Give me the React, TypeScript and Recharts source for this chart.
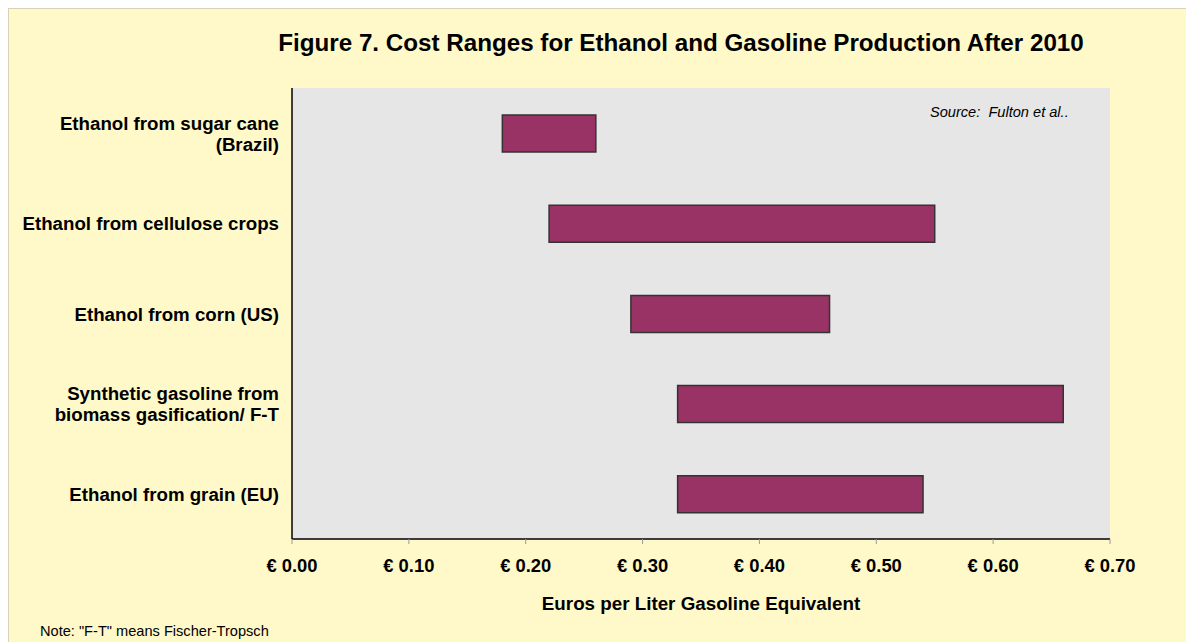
import React from "react";
import { BarChart, Bar, XAxis, YAxis, CartesianGrid } from "recharts";

const categories = [
  "Ethanol from sugar cane\n(Brazil)",
  "Ethanol from cellulose crops",
  "Ethanol from corn (US)",
  "Synthetic gasoline from\nbiomass gasification/ F-T",
  "Ethanol from grain (EU)",
];
const lowCost = [0.18, 0.22, 0.29, 0.33, 0.33];
const highCost = [0.26, 0.55, 0.46, 0.66, 0.54];
const xTicks = [0, 0.1, 0.2, 0.3, 0.4, 0.5, 0.6, 0.7];
const bandEdges = [0, 1, 2, 3, 4, 5];

const data = categories.map((name, i) => ({
  name,
  range: [lowCost[i], highCost[i]],
}));

const FONT = '"Liberation Sans", Arial, sans-serif';

function CategoryTick(props: any) {
  const { x, y, payload } = props;
  const lines = String(payload.value).split("\n");
  const lh = 21;
  const start = y - ((lines.length - 1) * lh) / 2;
  return (
    <text
      x={x}
      y={start}
      textAnchor="end"
      dominantBaseline="central"
      fontFamily={FONT}
      fontWeight="bold"
      fontSize={18.7}
      fill="#000"
    >
      {lines.map((l, i) => (
        <tspan key={i} x={x} y={start + i * lh}>
          {l}
        </tspan>
      ))}
    </text>
  );
}

export default function App() {
  return (
    <div
      style={{
        position: "relative",
        width: 1186,
        height: 640,
        boxSizing: "border-box",
        border: "1px solid #d6d2b8",
        background: "#fff9c9",
        fontFamily: FONT,
        overflow: "hidden",
      }}
    >
      <div
        style={{
          position: "absolute",
          left: 672,
          top: 22,
          transform: "translateX(-50%)",
          whiteSpace: "nowrap",
          fontSize: 24.2,
          lineHeight: "24px",
          fontWeight: "bold",
          color: "#000",
        }}
      >
        Figure 7. Cost Ranges for Ethanol and Gasoline Production After 2010
      </div>
      <BarChart
        width={1184}
        height={630}
        data={data}
        layout="vertical"
        barSize={37}
        margin={{ top: 79, right: 83, bottom: 40, left: 0 }}
        style={{ position: "absolute", left: 0, top: 0 }}
      >
        <CartesianGrid
          xAxisId="main"
          yAxisId="cat"
          horizontal={false}
          vertical={false}
          fill="#e6e6e6"
        />
        <XAxis
          xAxisId="main"
          type="number"
          domain={[0, 0.7]}
          ticks={xTicks}
          tickFormatter={(v: number) => `€ ${v.toFixed(2)}`}
          axisLine={{ stroke: "#000", strokeWidth: 1.5 }}
          tickLine={{ stroke: "#999" }}
          tickSize={5}
          tickMargin={15}
          height={60}
          tick={{ fill: "#000", fontSize: 18.4, fontWeight: "bold", fontFamily: FONT }}
          interval={0}
        />
        <XAxis
          xAxisId="top"
          type="number"
          orientation="top"
          domain={[0, 0.7]}
          height={0}
          tick={false}
          tickLine={false}
          axisLine={{ stroke: "#808080", strokeWidth: 1.5 }}
        />
        <YAxis
          yAxisId="edges"
          type="number"
          domain={[0, 5]}
          ticks={bandEdges}
          width={0}
          axisLine={false}
          tickLine={{ stroke: "#999" }}
          tickSize={5}
          tickFormatter={() => ""}
          interval={0}
        />
        <YAxis
          yAxisId="cat"
          type="category"
          dataKey="name"
          width={283}
          axisLine={{ stroke: "#000", strokeWidth: 1.5 }}
          tickLine={false}
          tickMargin={7}
          tick={<CategoryTick />}
          interval={0}
        />
        <YAxis
          yAxisId="right"
          type="number"
          orientation="right"
          domain={[0, 5]}
          width={0}
          tick={false}
          tickLine={false}
          axisLine={{ stroke: "#808080", strokeWidth: 1.5 }}
        />
        <Bar
          xAxisId="main"
          yAxisId="cat"
          dataKey="range"
          fill="#993366"
          stroke="#333"
          strokeWidth={1.5}
          isAnimationActive={false}
        />
      </BarChart>
      <div
        style={{
          position: "absolute",
          left: 921,
          top: 95,
          fontSize: 14.6,
          fontStyle: "italic",
          color: "#000",
          whiteSpace: "pre",
        }}
      >
        {"Source:  Fulton et al.."}
      </div>
      <div
        style={{
          position: "absolute",
          left: 692,
          top: 584,
          transform: "translateX(-50%)",
          fontSize: 18.8,
          fontWeight: "bold",
          whiteSpace: "nowrap",
          color: "#000",
        }}
      >
        Euros per Liter Gasoline Equivalent
      </div>
      <div
        style={{
          position: "absolute",
          left: 31,
          top: 614,
          fontSize: 14.6,
          color: "#000",
          whiteSpace: "nowrap",
        }}
      >
        Note: "F-T" means Fischer-Tropsch
      </div>
    </div>
  );
}
